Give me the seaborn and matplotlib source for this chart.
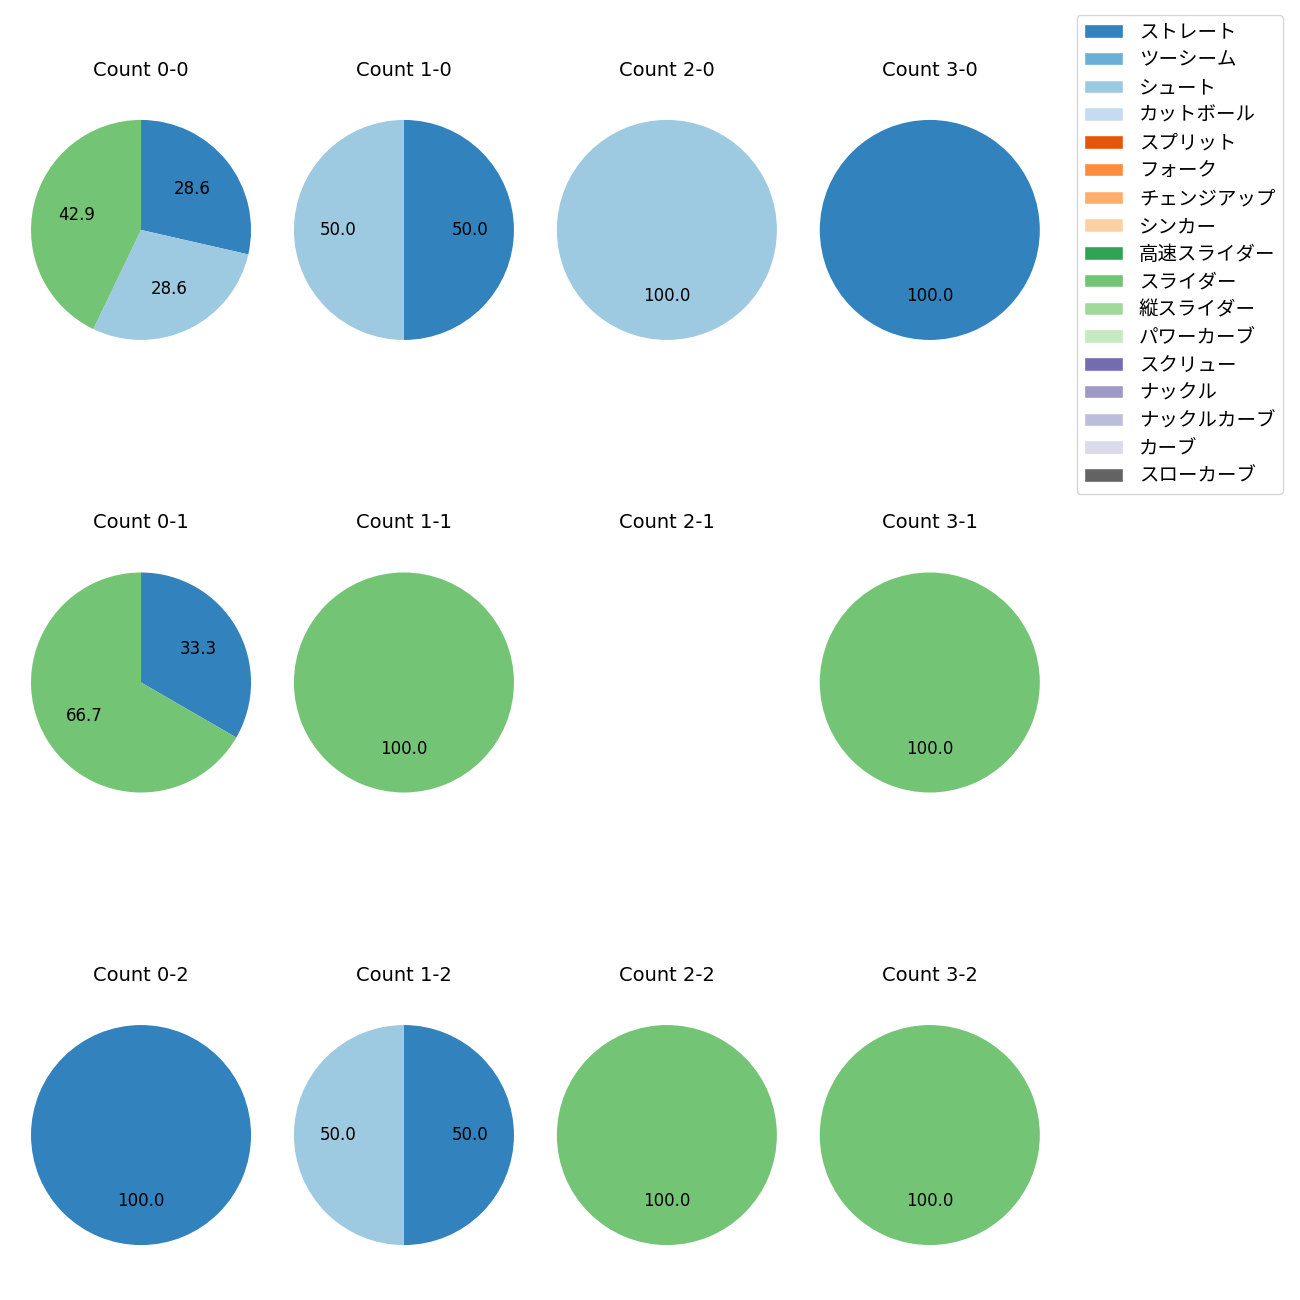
import matplotlib
matplotlib.use("Agg")
import matplotlib.pyplot as plt
from matplotlib.patches import Patch
import seaborn as sns

sns.set_style("white")
plt.rcParams["font.family"] = ["DejaVu Sans", "Noto Sans CJK JP"]
plt.rcParams["text.color"] = "black"

# ── Data ──────────────────────────────────────────────────────────────────────
pitch_types = [
    "ストレート", "ツーシーム", "シュート", "カットボール", "スプリット", "フォーク",
    "チェンジアップ", "シンカー", "高速スライダー", "スライダー", "縦スライダー",
    "パワーカーブ", "スクリュー", "ナックル", "ナックルカーブ", "カーブ", "スローカーブ",
]
count_labels = ["0-0", "1-0", "2-0", "3-0",
                "0-1", "1-1", "2-1", "3-1",
                "0-2", "1-2", "2-2", "3-2"]
# pitches thrown per count (same order as count_labels)
straight = [2, 1, 0, 1, 1, 0, 0, 0, 1, 1, 0, 0]
shoot    = [2, 1, 1, 0, 0, 0, 0, 0, 0, 1, 0, 0]
slider   = [3, 0, 0, 0, 2, 1, 0, 1, 0, 0, 1, 1]

colors = sns.color_palette("tab20c", len(pitch_types))
color_of = dict(zip(pitch_types, colors))

fig, axes = plt.subplots(3, 4, figsize=(13, 13))
fig.subplots_adjust(left=0.0027, right=0.821, top=0.929, bottom=0.021,
                    wspace=-0.044, hspace=0.644)

for ax, label, st, sh, sl in zip(axes.flat, count_labels, straight, shoot, slider):
    names = ["ストレート", "シュート", "スライダー"]
    vals = [st, sh, sl]
    keep = [(n, v) for n, v in zip(names, vals) if v > 0]
    ax.set_title(f"Count {label}", fontsize=14, pad=12)
    if not keep:
        ax.axis("off")
        continue
    ax.pie([v for _, v in keep],
           colors=[color_of[n] for n, _ in keep],
           autopct="%.1f", startangle=90, counterclock=False,
           wedgeprops={"linewidth": 0},
           textprops={"fontsize": 12})

handles = [Patch(facecolor=color_of[p], label=p) for p in pitch_types]
fig.legend(handles=handles, loc="upper right", bbox_to_anchor=(0.987, 0.9885),
           borderaxespad=0, fontsize=14, labelspacing=0.45)

fig.savefig("out.png", dpi=100)
